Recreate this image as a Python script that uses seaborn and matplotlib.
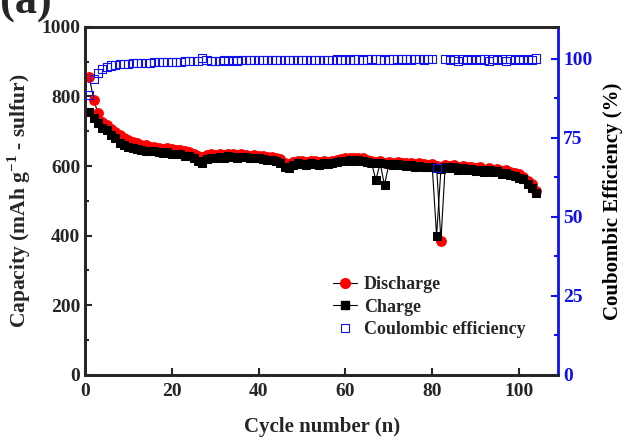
import numpy as np
import pandas as pd
import matplotlib
matplotlib.use("Agg")
import matplotlib.pyplot as plt
import seaborn as sns
from matplotlib.lines import Line2D
from matplotlib.ticker import MultipleLocator

# data
cycles = list(range(1, 105))

discharge = [856, 790, 752, 727, 718, 708, 698, 688, 682, 676,
             670, 666, 662, 660, 656, 655, 652, 650, 652, 648,
             645, 646, 642, 640, 636, 628, 626, 632, 634, 633,
             634, 632, 636, 634, 632, 634, 633, 630, 632, 630,
             628, 625, 626, 622, 620, 608, 604, 612, 616, 614,
             612, 616, 614, 612, 615, 613, 616, 618, 620, 622,
             624, 622, 624, 622, 618, 616, 612, 614, 610, 612,
             610, 612, 609, 608, 610, 606, 608, 605, 604, 606,
             600, 385, 604, 600, 602, 598, 600, 596, 598, 594,
             596, 590, 594, 590, 592, 586, 588, 582, 580, 576,
             570, 558, 548, 528]

charge = [756, 738, 724, 710, 704, 690, 681, 667, 661, 655,
          652, 648, 646, 644, 642, 643, 640, 638, 640, 636,
          634, 636, 630, 628, 622, 614, 610, 620, 624, 624,
          626, 624, 628, 626, 624, 626, 625, 622, 624, 622,
          620, 617, 618, 614, 610, 598, 594, 604, 608, 606,
          604, 608, 606, 604, 608, 606, 610, 612, 614, 616,
          618, 616, 618, 616, 612, 610, 560, 608, 545, 606,
          604, 606, 602, 600, 604, 598, 600, 597, 596, 598,
          400, 592, 598, 594, 596, 590, 594, 588, 592, 586,
          590, 582, 588, 582, 586, 578, 580, 574, 572, 566,
          562, 548, 538, 522]

coulombic = [88.5, 93.5, 95.5, 96.8, 97.3, 97.8, 98.0, 98.2, 98.3, 98.4,
             98.5, 98.6, 98.6, 98.7, 98.7, 98.8, 98.8, 98.9, 98.9, 99.0,
             99.0, 99.0, 99.1, 99.1, 99.2, 99.3, 100.3, 99.5, 99.2, 99.3,
             99.3, 99.4, 99.3, 99.4, 99.3, 99.4, 99.4, 99.5, 99.4, 99.5,
             99.5, 99.5, 99.4, 99.6, 99.5, 99.6, 99.5, 99.6, 99.5, 99.6,
             99.6, 99.5, 99.6, 99.6, 99.5, 99.6, 99.6, 99.7, 99.6, 99.7,
             99.6, 99.7, 99.7, 99.6, 99.7, 99.8, 99.7, 99.7, 99.6, 99.7,
             99.7, 99.8, 99.7, 99.8, 99.7, 99.8, 99.8, 99.7, 99.8, 99.8,
             65.5, np.nan, 99.8, 99.6, 99.8, 99.2, 99.8, 99.5, 99.8, 99.4,
             99.8, 99.7, 99.3, 99.8, 99.6, 99.8, 99.2, 99.8, 99.5, 99.8,
             99.4, 99.8, 99.6, 100.0]

df = pd.DataFrame({"cycle": cycles, "discharge": discharge,
                   "charge": charge, "ce": coulombic})

sns.set_style("ticks")
plt.rcParams['font.family'] = ['Liberation Serif', 'DejaVu Serif']
plt.rcParams['font.weight'] = 'bold'
plt.rcParams['mathtext.fontset'] = 'custom'
plt.rcParams['mathtext.rm'] = 'Liberation Serif:bold'
plt.rcParams['mathtext.bf'] = 'Liberation Serif:bold'

fig = plt.figure(figsize=(6.25, 4.41), dpi=100)
ax = fig.add_axes([0.136, 0.150, 0.757, 0.789])
ax2 = ax.twinx()

blue = '#1010ee'

# capacity curves
sns.lineplot(data=df, x="cycle", y="charge", ax=ax, color='black', lw=0.8,
             marker='s', markersize=6, markerfacecolor='black',
             markeredgecolor='black', zorder=3)
sns.lineplot(data=df, x="cycle", y="discharge", ax=ax, color='black', lw=0.8,
             marker='o', markersize=7, markerfacecolor='red',
             markeredgecolor='red', zorder=2)

# coulombic efficiency
sns.scatterplot(data=df, x="cycle", y="ce", ax=ax2, marker='s', s=34,
                facecolors='none', edgecolors=blue, linewidths=0.8, zorder=4)

ax.set_xlim(0, 109)
ax.set_ylim(0, 1000)
ax2.set_ylim(0, 110)

ax.xaxis.set_major_locator(MultipleLocator(20))
ax.yaxis.set_major_locator(MultipleLocator(200))
ax.yaxis.set_minor_locator(MultipleLocator(100))
ax2.yaxis.set_major_locator(MultipleLocator(25))
ax2.yaxis.set_minor_locator(MultipleLocator(12.5))

ax.tick_params(axis='both', which='both', direction='in', width=1.5,
               labelsize=14)
ax.tick_params(which='major', length=5)
ax.tick_params(which='minor', length=3)
ax.tick_params(axis='x', pad=6)
ax2.tick_params(axis='y', which='both', direction='in', width=1.5,
                colors=blue, labelsize=14)
ax2.tick_params(which='major', length=5)
ax2.tick_params(which='minor', length=3)

for sp in ['left', 'bottom', 'top']:
    ax.spines[sp].set_linewidth(2)
    ax2.spines[sp].set_linewidth(2)
ax2.spines['right'].set_linewidth(2)
ax2.spines['right'].set_color(blue)

for lab in ax.get_xticklabels() + ax.get_yticklabels() + ax2.get_yticklabels():
    lab.set_fontweight('bold')

ax.set_xlabel("Cycle number (n)", fontsize=15, fontweight='bold', labelpad=12)
ax.set_ylabel(r"Capacity (mAh g$^{-1}$ - sulfur)", fontsize=15.5,
              fontweight='bold', labelpad=6)
ax2.set_ylabel("Coubombic Efficiency (%)", fontsize=15, fontweight='bold',
               labelpad=8, color='black')

handles = [
    Line2D([], [], color='black', lw=0.8, marker='o', markersize=7,
           markerfacecolor='red', markeredgecolor='red'),
    Line2D([], [], color='black', lw=0.8, marker='s', markersize=5.5,
           markerfacecolor='black', markeredgecolor='black'),
    Line2D([], [], ls='', marker='s', markersize=5.5, markerfacecolor='none',
           markeredgecolor=blue, markeredgewidth=0.8),
]
ax.legend(handles, ["Discharge", "Charge", "Coulombic efficiency"],
          loc='upper left', bbox_to_anchor=(0.49, 0.33), frameon=False,
          handlelength=1.3, handletextpad=0.4, labelspacing=0.3,
          prop={'weight': 'bold', 'size': 13})

fig.text(0.0, 1 - 14 / 441, "(a)", fontsize=32, fontweight='bold',
         va='baseline', ha='left')
fig.text(0.02, -0.055, "(a)", fontsize=22, fontweight='bold',
         va='baseline', ha='left')

fig.savefig("out.png", dpi=100)
